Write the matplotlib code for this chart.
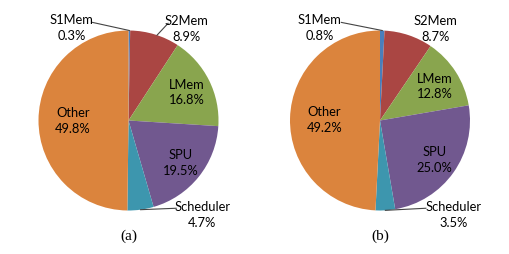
import numpy as np
import matplotlib
matplotlib.use("Agg")
import matplotlib.pyplot as plt

categories = ["S1Mem", "S2Mem", "LMem", "SPU", "Scheduler", "Other"]
values_a = [0.3, 8.9, 16.8, 19.5, 4.7, 49.8]
values_b = [0.8, 8.7, 12.8, 25.0, 3.5, 49.2]
panel_labels = ["(a)", "(b)"]

colors = ["#4A7EBB", "#AA4643", "#89A54E", "#71588F", "#3D96AE", "#DB843D"]

W, H = 509, 255
fig = plt.figure(figsize=(W / 100, H / 100), dpi=100)

# pie centres / radius in pixels
centres = [(128.5, 121.5), (380, 121.5)]
R = 90

# label placement (data units, pie radius = 1); others go inside on mid angle
outside = [
    {"S1Mem": (-0.63, 1.04), "S2Mem": (0.64, 1.03), "Scheduler": (0.82, -1.04)},
    {"S1Mem": (-0.67, 1.04), "S2Mem": (0.62, 1.03), "Scheduler": (0.82, -1.04)},
]
# where the leader lines start (near the text)
leaders = [
    {"S1Mem": (-0.40, 1.09), "S2Mem": (0.44, 1.08), "Scheduler": (0.53, -0.975)},
    {"S1Mem": (-0.43, 1.09), "Scheduler": (0.51, -0.975)},
]
inside_r = {"LMem": 0.72, "SPU": 0.74, "Other": 0.62}

font = "Lato"
fs = 9.3
ls = 1.35

for k, vals in enumerate([values_a, values_b]):
    cx, cy = centres[k]
    ax = fig.add_axes([(cx - R) / W, (H - cy - R) / H, 2 * R / W, 2 * R / H])
    wedges, _ = ax.pie(vals, colors=colors, startangle=90, counterclock=False,
                       radius=1, wedgeprops=dict(linewidth=0))
    ax.set_xlim(-1, 1)
    ax.set_ylim(-1, 1)
    ax.set_aspect("equal")
    ax.axis("off")
    for w, name, v in zip(wedges, categories, vals):
        mid = np.deg2rad((w.theta1 + w.theta2) / 2)
        txt = f"{name}\n{v:.1f}%"
        if name in outside[k]:
            x, y = outside[k][name]
            ax.text(x, y, txt, ha="center", va="center", fontsize=fs,
                    family=font, linespacing=ls, clip_on=False)
            if name in leaders[k]:
                lx, ly = leaders[k][name]
                ex, ey = np.cos(mid), np.sin(mid)
                if name == "S2Mem":
                    ang = np.deg2rad(71.5)
                    ex, ey = np.cos(ang), np.sin(ang)
                ax.plot([lx, ex], [ly, ey], color="#444444", lw=0.8,
                        clip_on=False)
        else:
            r = inside_r[name]
            ax.text(r * np.cos(mid), r * np.sin(mid), txt, ha="center",
                    va="center", fontsize=fs, family=font, linespacing=ls)
    fig.text(cx / W, 1 - 236 / H, panel_labels[k], ha="center", va="center",
             fontsize=11, family="Liberation Serif")

fig.savefig("out.png", dpi=100)
